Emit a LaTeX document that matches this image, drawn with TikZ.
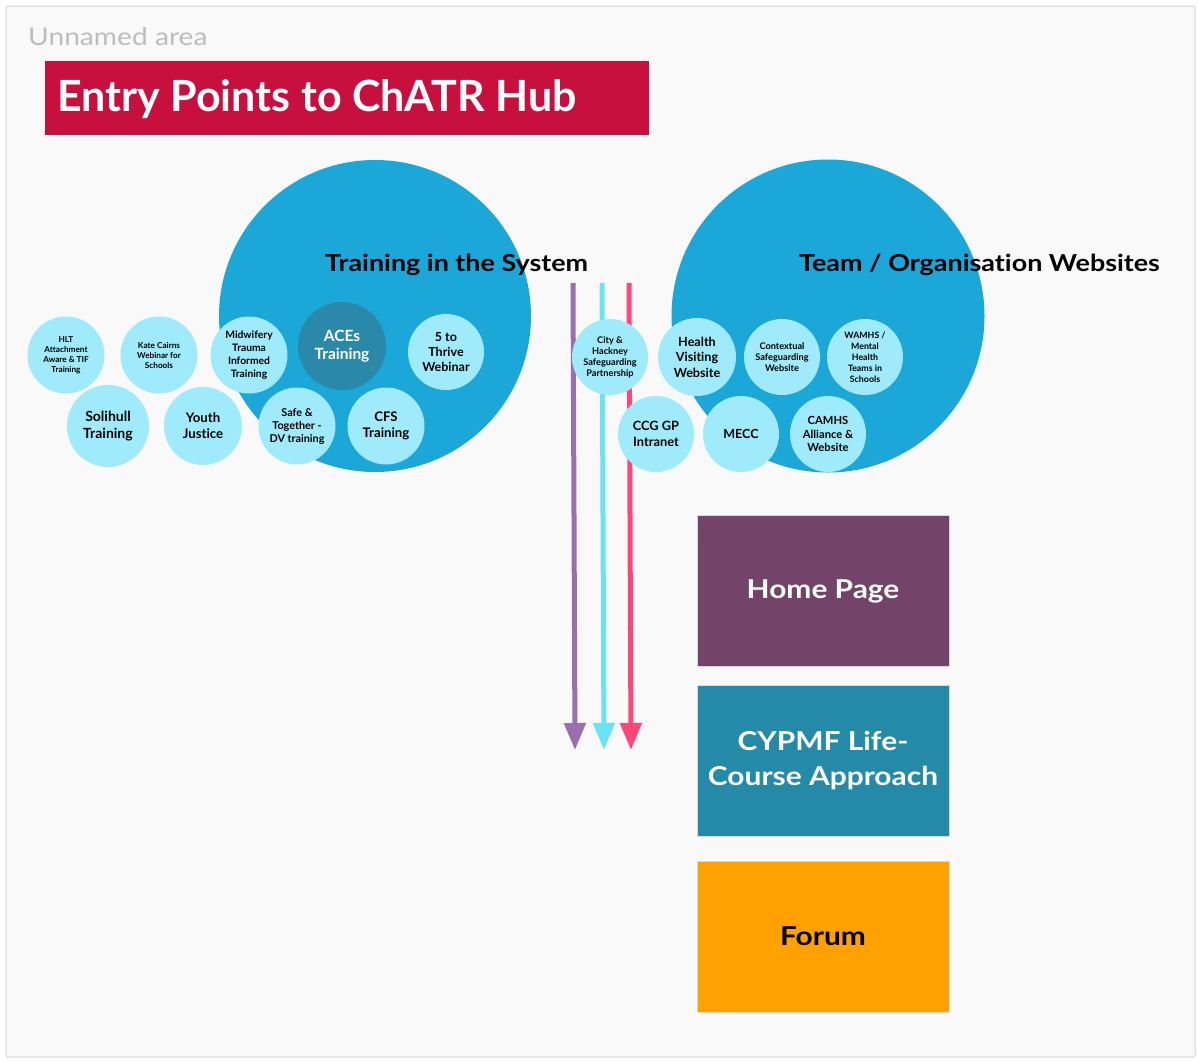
\documentclass[tikz,border=0pt]{standalone}
\usepackage{fontspec}
\setmainfont{Lato}[Ligatures={NoCommon}]
\newfontfamily\widefont[FakeStretch=1.15,Ligatures={NoCommon}]{Lato}
\usetikzlibrary{arrows.meta}
\definecolor{areabg}{HTML}{F9F9F9}
\definecolor{areaborder}{HTML}{E4E4E4}
\definecolor{areatext}{HTML}{BDBDBD}
\definecolor{titlered}{HTML}{C8103F}
\definecolor{bigblue}{HTML}{1BA7D8}
\definecolor{lightcyan}{HTML}{9FEAFB}
\definecolor{acesteal}{HTML}{2A89A9}
\definecolor{arrpurple}{HTML}{9B6EB0}
\definecolor{arrcyan}{HTML}{6BE3F1}
\definecolor{arrpink}{HTML}{FF4679}
\definecolor{homepurple}{HTML}{74436A}
\definecolor{cyptea}{HTML}{2589A8}
\definecolor{forumorange}{HTML}{FFA100}
\tikzset{
  bigcircle/.style={circle, fill=bigblue, inner sep=0pt, minimum size=#1},
  smallcircle/.style={circle, fill=lightcyan, inner sep=0pt, minimum size=#1, align=center, text=black},
  biglabel/.style={anchor=west, inner sep=0pt, font=\widefont\fontsize{23.4}{27}\selectfont\bfseries},
  pagebox/.style={rectangle, inner sep=0pt, minimum width=252pt, minimum height=151pt, align=center, font=\widefont\fontsize{26}{35}\selectfont\bfseries, draw=white!85!black, line width=0.6pt},
  flowarrow/.style={line width=5pt, -{Triangle[length=27pt,width=21pt]}},
  fs/.style 2 args={font=\fontsize{#1}{#2}\selectfont\bfseries}
}
\begin{document}
\begin{tikzpicture}[x=1pt,y=-1pt]
\useasboundingbox (0,0) rectangle (1198,1060);
\draw[fill=areabg, draw=areaborder, line width=1.5pt, rounded corners=2pt] (6,6) rectangle (1195,1057);
\node[anchor=west, inner sep=0pt, text=areatext, font=\widefont\fontsize{24.5}{28}\selectfont] (area) at (28,37) {Unnamed area};
\node[anchor=north west, fill=titlered, minimum width=604pt, minimum height=74pt, inner sep=0pt] (titlebox) at (45,61) {};
\node[anchor=west, inner sep=0pt, text=white, font=\fontsize{43}{48}\selectfont\bfseries] (title) at (57,99) {Entry Points to ChATR Hub};

% big circles
\node[bigcircle=312pt] (train) at (375,316) {};
\node[bigcircle=313pt] (team) at (828,316) {};

% arrows
\coordinate (ps) at (573,283); \coordinate (pe) at (575,750);
\coordinate (cs) at (602,283); \coordinate (ce) at (604,750);
\coordinate (rs) at (629,283); \coordinate (re) at (631,750);
\draw[flowarrow, arrpurple] (ps) -- (pe);
\draw[flowarrow, arrcyan] (cs) -- (ce);
\draw[flowarrow, arrpink] (rs) -- (re);

\node[biglabel] (trainlbl) at (325,265) {Training in the System};
\node[biglabel] (teamlbl) at (799,265) {Team / Organisation Websites};

% left small circles
\node[smallcircle=77pt, fs={8.2}{10}] (hlt) at (66,355) {HLT\\Attachment\\Aware \& TIF\\Training};
\node[smallcircle=77pt, fs={8.2}{10}] (kate) at (159,355) {Kate Cairns\\Webinar for\\Schools};
\node[smallcircle=77pt, fs={10.3}{12.8}] (mid) at (249,355) {Midwifery\\Trauma\\Informed\\Training};
\node[circle, fill=acesteal, inner sep=0pt, minimum size=88pt, align=center, text=white, fs={15.5}{18}] (aces) at (342,346) {ACEs\\Training};
\node[smallcircle=76pt, fs={12.5}{15.2}] (thrive) at (446,352) {5 to\\Thrive\\Webinar};
\node[smallcircle=82pt, fs={14}{16.5}] (soli) at (108,426) {Solihull\\Training};
\node[smallcircle=78pt, fs={13.2}{16}] (youth) at (203,426) {Youth\\Justice};
\node[smallcircle=77pt, fs={10.8}{13}] (safe) at (297,426) {Safe \&\\Together -\\DV training};
\node[smallcircle=77pt, fs={13.2}{16}] (cfs) at (386,426) {CFS\\Training};

% right small circles
\node[smallcircle=76pt, fs={9.2}{11}] (city) at (610,357) {City \&\\Hackney\\Safeguarding\\Partnership};
\node[smallcircle=78pt, fs={12.6}{15.5}] (hv) at (697,357) {Health\\Visiting\\Website};
\node[smallcircle=76pt, fs={9.2}{10.8}] (ctx) at (782,357) {Contextual\\Safeguarding\\Website};
\node[smallcircle=76pt, fs={8.8}{10.9}] (wamhs) at (865,357) {WAMHS /\\Mental\\Health\\Teams in\\Schools};
\node[smallcircle=76pt, fs={12.8}{15.5}] (ccg) at (656,434) {CCG GP\\Intranet};
\node[smallcircle=76pt, fs={12.5}{16}] (mecc) at (741,434) {MECC};
\node[smallcircle=76pt, fs={11.2}{13.6}] (camhs) at (828,434) {CAMHS\\Alliance \&\\Website};

% boxes
\node[pagebox, fill=homepurple, text=white] (home) at (823,591) {Home Page};
\node[pagebox, fill=cyptea, text=white] (cyp) at (823,760.5) {CYPMF Life-\\Course Approach};
\node[pagebox, fill=forumorange, text=black] (forum) at (823,936.5) {Forum};
\end{tikzpicture}
\end{document}
